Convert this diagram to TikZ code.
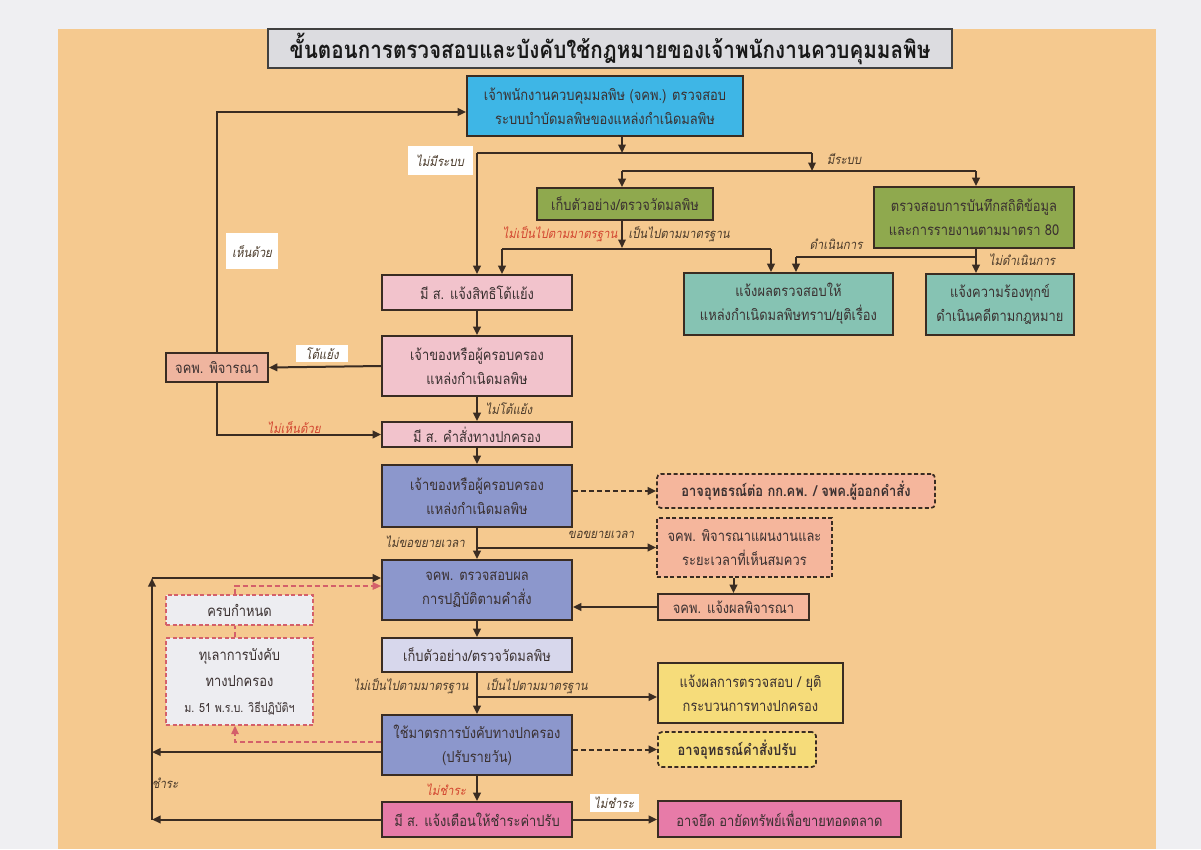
\documentclass[tikz,border=0pt]{standalone}
\usepackage{fontspec}
\newfontfamily\thai[Script=Thai,FakeStretch=0.86]{Loma}
\newfontfamily\thaiit[Script=Thai,FakeSlant=0.2,FakeStretch=0.88]{Loma}
\usetikzlibrary{arrows.meta,calc}
\definecolor{pagec}{HTML}{EFEFF2}
\definecolor{tanc}{HTML}{F5C98F}
\definecolor{bordc}{HTML}{3A2C22}
\definecolor{textc}{HTML}{3A3030}
\definecolor{labc}{HTML}{4A3A2A}
\definecolor{redlab}{HTML}{D2452F}
\definecolor{cTitle}{HTML}{DCDCE0}
\definecolor{cBlue}{HTML}{3EB6E6}
\definecolor{cOlive}{HTML}{8FA94E}
\definecolor{cTeal}{HTML}{86C3B3}
\definecolor{cPink}{HTML}{F2C3CC}
\definecolor{cSalmon}{HTML}{EFB59F}
\definecolor{cPurple}{HTML}{8C97CC}
\definecolor{cLav}{HTML}{D7D7EC}
\definecolor{cPeach}{HTML}{F5B69C}
\definecolor{cYellow}{HTML}{F6DC7A}
\definecolor{cMag}{HTML}{E77BA8}
\definecolor{cGrey}{HTML}{EDEDF1}
\definecolor{redd}{HTML}{D4606A}
\begin{document}
\begin{tikzpicture}[x=1pt,y=-1pt,
  >={Triangle[length=8.5pt,width=7.5pt]},
  line/.style={draw=bordc, line width=2pt},
  conn/.style={line, ->},
  dconn/.style={line, dash pattern=on 5pt off 3pt, ->},
  rline/.style={draw=redd, line width=1.5pt, dash pattern=on 5pt off 3pt},
  rconn/.style={rline, ->},
  box/.style={draw=bordc, line width=1.7pt, inner sep=2pt, align=center,
    font=\thai\fontsize{15}{24}\selectfont, text=textc},
  dbox/.style={box, dash pattern=on 4pt off 2.5pt, rounded corners=4pt},
  rbox/.style={box, draw=redd, line width=1.4pt, dash pattern=on 4pt off 2.5pt, fill=cGrey},
  lbl/.style={font=\thaiit\fontsize{13}{14}\selectfont, text=labc, inner sep=1pt},
  rlbl/.style={lbl, text=redlab},
  wlbl/.style={lbl, fill=white, inner sep=2pt}]
\useasboundingbox (0,0) rectangle (1201,849);
\fill[pagec] (0,0) rectangle (1201,849);
\fill[tanc] (58,29) rectangle (1156,849);
% title
\node[draw=black!75, line width=1.8pt, fill=cTitle, minimum width=684pt, minimum height=39pt,
  font=\thai\bfseries\fontsize{24}{26}\selectfont, text=black!90] (title) at (610,48.5)
  {ขั้นตอนการตรวจสอบและบังคับใช้กฎหมายของเจ้าพนักงานควบคุมมลพิษ};
% boxes
\node[box, fill=cBlue, minimum width=276pt, minimum height=60pt] (b1) at (605,106)
  {เจ้าพนักงานควบคุมมลพิษ (จคพ.) ตรวจสอบ\\ระบบบำบัดมลพิษของแหล่งกำเนิดมลพิษ};
\node[box, fill=cOlive, minimum width=176pt, minimum height=32pt] (sample1) at (625,204)
  {เก็บตัวอย่าง/ตรวจวัดมลพิษ};
\node[box, fill=cOlive, minimum width=200pt, minimum height=61pt] (record) at (974,217.5)
  {ตรวจสอบการบันทึกสถิติข้อมูล\\และการรายงานตามมาตรา 80};
\node[box, fill=cTeal, minimum width=209pt, minimum height=62pt] (notify) at (788.5,304)
  {แจ้งผลตรวจสอบให้\\แหล่งกำเนิดมลพิษทราบ/ยุติเรื่อง};
\node[box, fill=cTeal, minimum width=148pt, minimum height=61pt] (complaint) at (1000,304.5)
  {แจ้งความร้องทุกข์\\ดำเนินคดีตามกฎหมาย};
\node[box, fill=cPink, minimum width=190pt, minimum height=35pt] (right) at (477,292.5)
  {มี ส. แจ้งสิทธิโต้แย้ง};
\node[box, fill=cPink, minimum width=190pt, minimum height=60pt] (owner1) at (477,366)
  {เจ้าของหรือผู้ครอบครอง\\แหล่งกำเนิดมลพิษ};
\node[box, fill=cSalmon, minimum width=102pt, minimum height=29pt] (consider) at (217,367.5)
  {จคพ. พิจารณา};
\node[box, fill=cPink, minimum width=190pt, minimum height=25pt] (order) at (477,434.5)
  {มี ส. คำสั่งทางปกครอง};
\node[box, fill=cPurple, minimum width=190pt, minimum height=62pt] (owner2) at (477,496)
  {เจ้าของหรือผู้ครอบครอง\\แหล่งกำเนิดมลพิษ};
\node[dbox, fill=cPeach, minimum width=278pt, minimum height=34pt, font=\thai\bfseries\fontsize{15}{24}\selectfont] (appeal1) at (796,491)
  {อาจอุทธรณ์ต่อ กก.คพ. / จพค.ผู้ออกคำสั่ง};
\node[dbox, fill=cPeach, minimum width=175pt, minimum height=59pt, rounded corners=0pt] (plan) at (744.5,547.5)
  {จคพ. พิจารณาแผนงานและ\\ระยะเวลาที่เห็นสมควร};
\node[box, fill=cPeach, minimum width=151pt, minimum height=26pt] (result) at (733.5,607)
  {จคพ. แจ้งผลพิจารณา};
\node[box, fill=cPurple, minimum width=190pt, minimum height=60pt] (check) at (477,590)
  {จคพ. ตรวจสอบผล\\การปฏิบัติตามคำสั่ง};
\node[box, fill=cLav, minimum width=190pt, minimum height=34pt] (sample2) at (477,655)
  {เก็บตัวอย่าง/ตรวจวัดมลพิษ};
\node[box, fill=cYellow, minimum width=185pt, minimum height=60pt] (endproc) at (750.5,693)
  {แจ้งผลการตรวจสอบ / ยุติ\\กระบวนการทางปกครอง};
\node[box, fill=cPurple, minimum width=190pt, minimum height=60pt] (enforce) at (477,745)
  {ใช้มาตรการบังคับทางปกครอง\\(ปรับรายวัน)};
\node[dbox, fill=cYellow, minimum width=158pt, minimum height=35pt, font=\thai\bfseries\fontsize{15}{24}\selectfont] (appeal2) at (737,749.5)
  {อาจอุทธรณ์คำสั่งปรับ};
\node[box, fill=cMag, minimum width=190pt, minimum height=35pt] (warn) at (477,819.5)
  {มี ส. แจ้งเตือนให้ชำระค่าปรับ};
\node[box, fill=cMag, minimum width=243pt, minimum height=36pt] (seize) at (779.5,819)
  {อาจยึด อายัดทรัพย์เพื่อขายทอดตลาด};
\node[rbox, minimum width=147pt, minimum height=30pt] (due) at (239.5,610)
  {ครบกำหนด};
\node[rbox, minimum width=147pt, minimum height=87pt, font=\thai\fontsize{15}{26}\selectfont] (stay) at (239.5,681.5)
  {ทุเลาการบังคับ\\ทางปกครอง\\{\fontsize{12.5}{26}\selectfont ม. 51 พ.ร.บ. วิธีปฏิบัติฯ}};
% junction coordinates
\coordinate (j1) at (622,153);
\coordinate (jl) at (477,153);
\coordinate (jr) at (812,153);
\coordinate (j2l) at (622,171);
\coordinate (j2r) at (976,171);
\coordinate (j3) at (622,248);
\coordinate (j3l) at (502,249);
\coordinate (j3r) at (771,249);
\coordinate (j4) at (976,257);
\coordinate (j4l) at (796,257);
\coordinate (top) at (217,112);
\coordinate (j5) at (477,547.5);
\coordinate (j6) at (477,697);
\coordinate (L1) at (152,578);
\coordinate (L2) at (152,752);
\coordinate (L3) at (152,819.5);
\coordinate (R1) at (235,742);
\coordinate (R2) at (235,586);
% connectors
\draw[conn] (b1.south -| j1) -- (j1);
\draw[line] (jl) -- (jr);
\draw[conn] (jr) -- (jr |- j2l);
\draw[line] (j2l) -- (j2r);
\draw[conn] (j2l) -- (sample1.north -| j2l);
\draw[conn] (j2r) -- (record.north -| j2r);
\draw[conn] (jl) -- (right.north);
\draw[conn] (sample1.south -| j3) -- (j3);
\draw[line] (j3l) -- (j3r);
\draw[conn] (j3l) -- (right.north -| j3l);
\draw[conn] (j3r) -- (notify.north -| j3r);
\draw[conn] (record.south -| j4) -- (complaint.north -| j4);
\draw[line] (j4) -- (j4l);
\draw[conn] (j4l) -- (notify.north -| j4l);
\draw[conn] (right.south) -- (owner1.north);
\draw[conn] (owner1.south) -- (order.north);
\draw[conn] (owner1.west) -- (consider.east);
\draw[conn] (consider.north) -- (top) -- (b1.west |- top);
\draw[conn] (consider.south) |- (order.west);
\draw[conn] (order.south) -- (owner2.north);
\draw[dconn] (owner2.east |- appeal1.west) -- (appeal1.west);
\draw[conn] (owner2.south) -- (check.north);
\draw[conn] (j5) -- (plan.west);
\draw[conn] (result.north |- plan.south) -- (result.north);
\draw[conn] (result.west) -- (result.west -| check.east);
\draw[conn] (check.south) -- (sample2.north);
\draw[conn] (sample2.south) -- (enforce.north);
\draw[conn] (j6) -- (endproc.west |- j6);
\draw[dconn] (enforce.east |- appeal2.west) -- (appeal2.west);
\draw[conn] (enforce.south) -- (warn.north);
\draw[conn] (warn.east) -- (seize.west |- warn.east);
\draw[conn] (enforce.west |- L2) -- (L2);
\draw[conn] (warn.west) -- (L3);
\draw[conn] (L3) -- (L1);
\draw[conn] (L1) -- (check.west |- L1);
\draw[rconn] (enforce.west |- R1) -- (R1) -- (stay.south -| R1);
\draw[rline] (stay.north -| R1) -- (due.south -| R1);
\draw[rconn] (due.north -| R1) -- (R2) -- (check.west |- R2);
% labels
\node[wlbl, minimum width=65pt, minimum height=29pt] (l1) at (440,160.5) {ไม่มีระบบ};
\node[lbl] (l2) at (844,159) {มีระบบ};
\node[rlbl] (l3) at (560,234) {ไม่เป็นไปตามมาตรฐาน};
\node[lbl] (l4) at (679,234) {เป็นไปตามมาตรฐาน};
\node[lbl] (l5) at (836,244) {ดำเนินการ};
\node[lbl] (l6) at (1022,260) {ไม่ดำเนินการ};
\node[wlbl, minimum width=52pt, minimum height=36pt, anchor=north] (l7) at (252,233) {เห็นด้วย};
\node[wlbl, minimum width=52pt, minimum height=17pt] (l8) at (322,353.5) {โต้แย้ง};
\node[lbl] (l9) at (509,409) {ไม่โต้แย้ง};
\node[rlbl] (l10) at (294,428) {ไม่เห็นด้วย};
\node[lbl] (l11) at (425,542) {ไม่ขอขยายเวลา};
\node[lbl] (l12) at (601,535) {ขอขยายเวลา};
\node[lbl] (l13) at (411,686) {ไม่เป็นไปตามมาตรฐาน};
\node[lbl] (l14) at (537,686) {เป็นไปตามมาตรฐาน};
\node[rlbl] (l15) at (446,790) {ไม่ชำระ};
\node[wlbl, minimum width=49pt, minimum height=18pt] (l16) at (614,803) {ไม่ชำระ};
\node[lbl] (l17) at (165,783) {ชำระ};
\end{tikzpicture}
\end{document}
